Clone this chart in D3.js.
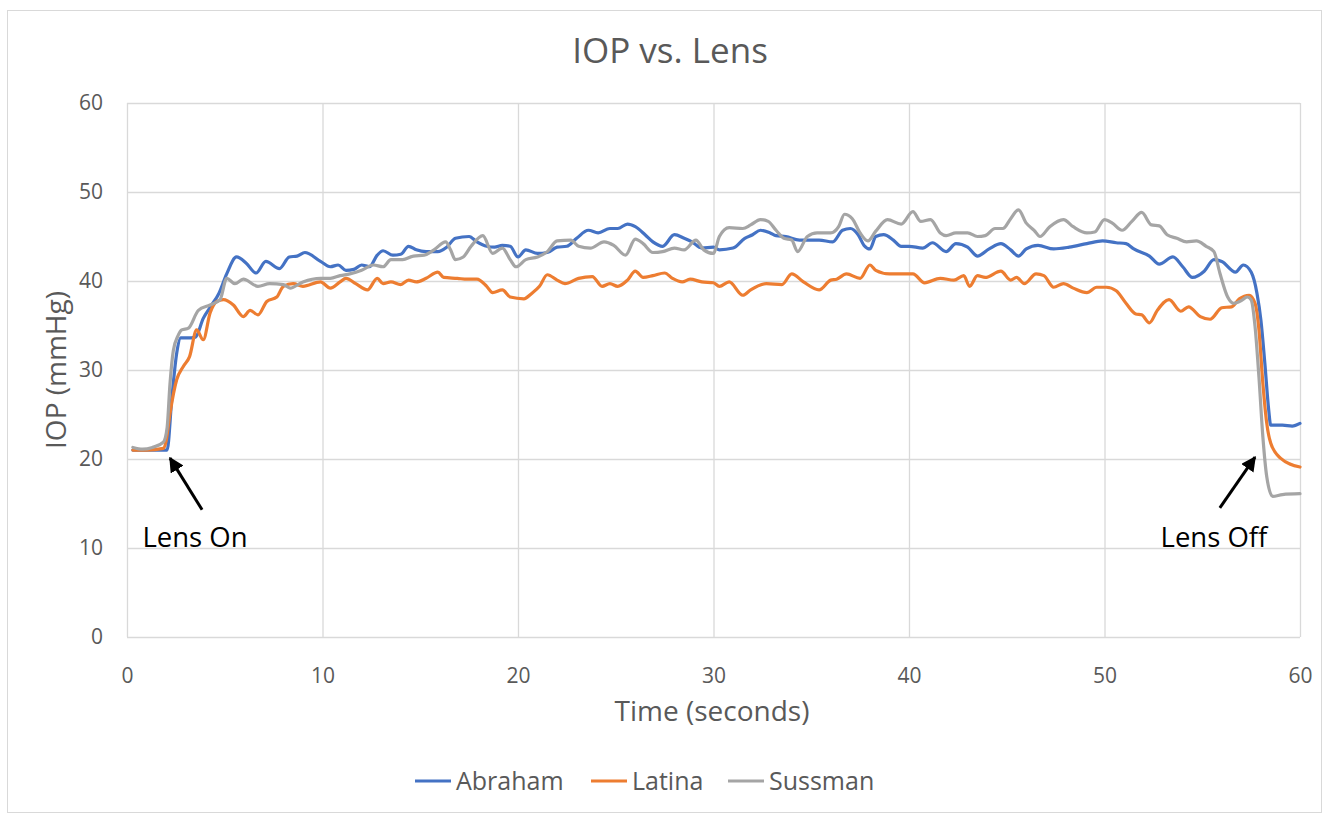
<!DOCTYPE html>
<html>
<head>
<meta charset="utf-8">
<script src="https://cdn.jsdelivr.net/npm/d3@7"></script>
<style>
  html, body { margin: 0; padding: 0; background: #fff; }
  svg { display: block; font-family: "Open Sans", "Noto Sans", sans-serif; }
</style>
</head>
<body>
<svg id="chart" width="1323" height="815"></svg>
<script>
// IOP vs. Lens — three subjects

const seriesNames = ['Abraham', 'Latina', 'Sussman'];
const seriesColors = ['#4472C4', '#ED7D31', '#A5A5A5'];

const xTicks = [0, 10, 20, 30, 40, 50, 60];
const yTicks = [0, 10, 20, 30, 40, 50, 60];

// [seconds, mmHg]
const abraham = [
  [0.3, 21.0], [1.0, 21.0], [1.8, 21.0], [2.05, 21.0], [2.3, 27.0], [2.55, 32.0], [2.75, 33.6],
  [3.1, 33.6], [3.5, 33.7], [3.9, 35.8], [4.3, 37.2], [4.7, 38.6], [5.1, 40.8], [5.6, 42.7],
  [6.1, 42.0], [6.6, 40.9], [7.1, 42.2], [7.8, 41.4], [8.3, 42.7], [8.7, 42.8], [9.1, 43.2],
  [9.9, 42.2], [10.4, 41.6], [10.8, 41.8], [11.2, 41.2], [11.6, 41.3], [12.0, 41.8], [12.4, 41.6],
  [12.8, 42.9], [13.1, 43.4], [13.6, 42.9], [14.0, 43.0], [14.4, 43.9], [14.8, 43.5], [15.3, 43.3],
  [15.9, 43.3], [16.35, 43.8], [16.8, 44.8], [17.5, 45.0], [17.9, 44.4], [18.4, 43.9], [18.8, 43.8],
  [19.2, 44.0], [19.6, 43.9], [20.0, 42.7], [20.4, 43.5], [21.0, 43.1], [21.5, 43.2], [22.0, 43.8],
  [22.5, 43.9], [23.0, 44.8], [23.6, 45.7], [24.1, 45.4], [24.7, 45.9], [25.1, 45.9], [25.6, 46.4],
  [26.0, 46.1], [26.5, 45.2], [26.9, 44.4], [27.4, 43.9], [28.0, 45.2], [28.5, 44.8], [28.9, 44.4],
  [29.4, 43.7], [30.0, 43.8], [30.3, 43.5], [31.0, 43.7], [31.6, 44.8], [32.0, 45.2], [32.4, 45.7],
  [32.9, 45.4], [33.2, 45.1], [33.7, 45.0], [34.4, 44.6], [35.4, 44.6], [36.1, 44.4], [36.6, 45.7],
  [37.0, 45.9], [37.4, 45.2], [37.7, 44.0], [38.0, 43.6], [38.3, 45.0], [38.7, 45.2], [39.2, 44.6],
  [39.6, 43.9], [40.0, 43.9], [40.7, 43.7], [41.2, 44.3], [41.9, 43.3], [42.4, 44.2], [43.0, 43.8],
  [43.5, 42.8], [44.1, 43.6], [44.7, 44.2], [45.2, 43.5], [45.6, 42.8], [46.0, 43.6], [46.6, 44.0],
  [47.4, 43.6], [48.2, 43.8], [49.1, 44.2], [49.9, 44.5], [50.6, 44.3], [51.1, 44.2], [51.5, 43.6],
  [52.3, 42.8], [52.8, 41.9], [53.5, 42.7], [54.0, 41.6], [54.5, 40.4], [55.1, 41.1], [55.6, 42.4],
  [56.0, 42.2], [56.7, 41.0], [57.1, 41.8], [57.5, 41.0], [57.8, 38.6], [58.0, 35.6], [58.2, 30.8],
  [58.4, 25.5], [58.5, 23.8], [59.1, 23.8], [59.6, 23.7], [60.0, 24.0]
];

const latina = [
  [0.3, 21.0], [1.0, 21.0], [1.86, 21.2], [2.0, 22.0], [2.2, 25.1], [2.54, 28.9], [2.88, 30.4],
  [3.2, 31.5], [3.56, 34.5], [3.9, 33.4], [4.25, 36.4], [4.6, 37.7], [4.93, 37.9], [5.44, 37.3],
  [5.95, 36.0], [6.3, 36.7], [6.7, 36.2], [7.15, 37.7], [7.66, 38.2], [8.0, 39.4], [8.5, 39.7],
  [9.0, 39.4], [9.9, 39.9], [10.4, 39.2], [10.9, 39.9], [11.2, 40.3], [11.7, 39.7], [12.3, 39.0],
  [12.8, 40.3], [13.1, 39.7], [13.5, 39.9], [14.0, 39.6], [14.4, 40.1], [14.8, 39.9], [15.3, 40.3],
  [15.9, 41.0], [16.2, 40.4], [16.9, 40.3], [17.4, 40.2], [17.9, 40.2], [18.4, 39.4], [18.7, 38.7],
  [19.2, 39.0], [19.6, 38.2], [20.3, 38.0], [20.7, 38.6], [21.1, 39.4], [21.5, 40.7], [22.0, 40.1],
  [22.4, 39.7], [23.1, 40.3], [23.8, 40.5], [24.3, 39.4], [24.7, 39.7], [25.1, 39.4], [25.6, 40.1],
  [26.0, 41.1], [26.4, 40.4], [26.9, 40.6], [27.5, 40.9], [27.9, 40.3], [28.4, 39.9], [28.8, 40.2],
  [29.4, 39.9], [30.0, 39.8], [30.3, 39.4], [30.8, 39.9], [31.5, 38.4], [31.9, 39.0], [32.7, 39.7],
  [33.5, 39.6], [34.0, 40.8], [34.6, 39.9], [35.4, 39.0], [36.0, 40.1], [36.3, 40.2], [36.8, 40.8],
  [37.5, 40.3], [38.0, 41.8], [38.3, 41.2], [39.0, 40.8], [39.6, 40.8], [40.2, 40.8], [40.8, 39.8],
  [41.6, 40.3], [42.3, 40.1], [42.8, 40.6], [43.1, 39.4], [43.5, 40.6], [43.9, 40.4], [44.7, 41.1],
  [45.2, 40.1], [45.5, 40.4], [45.9, 39.7], [46.5, 40.8], [46.9, 40.6], [47.4, 39.3], [47.9, 39.7],
  [48.4, 39.2], [49.1, 38.7], [49.6, 39.3], [50.1, 39.3], [50.6, 38.9], [51.1, 37.5], [51.6, 36.3],
  [51.9, 36.2], [52.3, 35.3], [52.7, 36.7], [53.3, 37.9], [53.9, 36.6], [54.3, 37.1], [54.9, 36.0],
  [55.4, 35.7], [56.0, 37.0], [56.5, 37.1], [56.9, 38.0], [57.4, 38.4], [57.7, 37.5], [57.9, 34.5],
  [58.1, 28.5], [58.3, 24.0], [58.5, 21.8], [59.0, 20.1], [60.0, 19.1]
];

const sussman = [
  [0.3, 21.3], [0.8, 21.1], [1.3, 21.3], [1.86, 21.9], [2.05, 23.5], [2.2, 28.5], [2.37, 32.2],
  [2.6, 33.8], [2.8, 34.5], [3.14, 34.7], [3.65, 36.7], [4.25, 37.3], [4.76, 37.9], [5.1, 40.3],
  [5.52, 39.7], [5.95, 40.2], [6.7, 39.4], [7.3, 39.7], [8.0, 39.6], [8.34, 39.2], [9.0, 39.9],
  [9.9, 40.3], [10.4, 40.3], [10.9, 40.6], [11.4, 40.8], [12.0, 41.2], [12.6, 41.8], [13.1, 41.6],
  [13.5, 42.4], [14.1, 42.4], [14.65, 42.8], [15.2, 42.9], [15.7, 43.5], [16.3, 44.4], [16.55, 43.5],
  [16.8, 42.4], [17.2, 42.7], [17.6, 43.9], [18.2, 45.1], [18.7, 43.1], [19.2, 43.7], [19.6, 42.4],
  [19.9, 41.6], [20.4, 42.4], [21.0, 42.7], [21.5, 43.3], [22.0, 44.5], [22.7, 44.6], [23.1, 43.9],
  [23.7, 43.7], [24.4, 44.4], [24.9, 44.0], [25.5, 42.9], [26.0, 44.7], [26.4, 44.2], [26.9, 43.2],
  [27.4, 43.3], [28.0, 43.7], [28.5, 43.5], [29.1, 44.6], [29.5, 43.5], [30.0, 43.1], [30.3, 45.0],
  [30.8, 46.0], [31.5, 45.9], [31.9, 46.3], [32.4, 46.9], [32.8, 46.7], [33.2, 45.7], [33.6, 44.8],
  [34.0, 44.6], [34.3, 43.3], [34.8, 45.0], [35.3, 45.4], [36.0, 45.4], [36.4, 46.1], [36.7, 47.5],
  [37.1, 47.0], [37.5, 45.4], [37.9, 44.5], [38.3, 45.6], [38.9, 46.9], [39.6, 46.4], [40.2, 47.8],
  [40.6, 46.7], [41.1, 46.9], [41.6, 45.4], [41.9, 45.1], [42.4, 45.4], [43.0, 45.4], [43.5, 45.0],
  [43.9, 45.1], [44.4, 45.9], [44.8, 45.9], [45.2, 47.0], [45.6, 48.0], [46.0, 46.5], [46.4, 45.7],
  [46.7, 45.0], [47.2, 46.1], [47.9, 46.9], [48.4, 46.1], [49.1, 45.4], [49.5, 45.5], [50.0, 46.9],
  [50.4, 46.5], [50.9, 45.7], [51.4, 46.7], [51.9, 47.7], [52.4, 46.3], [52.8, 46.2], [53.2, 45.2],
  [53.7, 44.8], [54.2, 44.4], [54.7, 44.5], [55.2, 43.9], [55.6, 43.3], [55.9, 40.9], [56.3, 38.2],
  [56.6, 37.5], [57.0, 37.8], [57.3, 38.2], [57.5, 37.9], [57.7, 34.9], [57.9, 29.2], [58.1, 22.5],
  [58.3, 18.0], [58.6, 15.8], [59.1, 16.0], [60.0, 16.1]
];

const seriesData = [abraham, latina, sussman];

// annotation anchors: [tipT, tipV, tailT, tailV, labelT, labelV]
const annotationLabels = ['Lens On', 'Lens Off'];
const annotationAnchors = [
  [2.2, 20.1, 3.84, 14.3, 3.48, 10.1],
  [57.7, 20.2, 55.9, 14.5, 55.6, 10.1]
];

// ─── Layout ──────────────────────────────────────────────────────────────────

const svg = d3.select('#chart');
const plot = { left: 127, right: 1300, top: 103, bottom: 637 };
const textColor = '#595959';
const gridColor = '#d9d9d9';

const x = d3.scaleLinear().domain([0, 60]).range([plot.left, plot.right]);
const y = d3.scaleLinear().domain([0, 60]).range([plot.bottom, plot.top]);

// chart border
svg.append('rect')
  .attr('x', 7.5).attr('y', 10.5)
  .attr('width', 1314).attr('height', 802)
  .attr('fill', 'none')
  .attr('stroke', gridColor)
  .attr('stroke-width', 1);

// title
svg.append('text')
  .attr('x', 670).attr('y', 63)
  .attr('text-anchor', 'middle')
  .attr('font-size', 35)
  .attr('fill', textColor)
  .text('IOP vs. Lens');

// ─── Grid + axes ─────────────────────────────────────────────────────────────

const yAxis = svg.append('g')
  .attr('transform', `translate(${plot.left},0)`)
  .call(d3.axisLeft(y).tickValues(yTicks).tickSize(-(plot.right - plot.left)).tickPadding(24));

const xAxis = svg.append('g')
  .attr('transform', `translate(0,${plot.bottom})`)
  .call(d3.axisBottom(x).tickValues(xTicks).tickSize(-(plot.bottom - plot.top)).tickPadding(31));

[xAxis, yAxis].forEach(g => {
  g.select('.domain').remove();
  g.selectAll('.tick line').attr('stroke', gridColor).attr('stroke-width', 1.3);
  g.selectAll('.tick text')
    .attr('fill', textColor)
    .attr('font-size', 21)
    .attr('font-family', '"Open Sans", sans-serif');
});

// axis titles
svg.append('text')
  .attr('x', 712).attr('y', 721)
  .attr('text-anchor', 'middle')
  .attr('font-size', 28)
  .attr('fill', textColor)
  .text('Time (seconds)');

svg.append('text')
  .attr('transform', `translate(66,${(plot.top + plot.bottom) / 2}) rotate(-90)`)
  .attr('text-anchor', 'middle')
  .attr('font-size', 28)
  .attr('fill', textColor)
  .text('IOP (mmHg)');

// ─── Lines ───────────────────────────────────────────────────────────────────

const line = d3.line()
  .x(d => x(d[0]))
  .y(d => y(d[1]))
  .curve(d3.curveMonotoneX);

svg.append('g').selectAll('path')
  .data(seriesData)
  .join('path')
  .attr('d', line)
  .attr('fill', 'none')
  .attr('stroke', (d, i) => seriesColors[i])
  .attr('stroke-width', 3.2)
  .attr('stroke-linejoin', 'round')
  .attr('stroke-linecap', 'round');

// ─── Annotations ─────────────────────────────────────────────────────────────

svg.append('defs').append('marker')
  .attr('id', 'arrowhead')
  .attr('viewBox', '0 -5 10 10')
  .attr('refX', 9)
  .attr('refY', 0)
  .attr('markerWidth', 5)
  .attr('markerHeight', 5)
  .attr('markerUnits', 'strokeWidth')
  .attr('orient', 'auto')
  .append('path')
  .attr('d', 'M0,-5L10,0L0,5Z')
  .attr('fill', '#000');

const ann = svg.append('g').selectAll('g')
  .data(annotationAnchors)
  .join('g');

ann.append('line')
  .attr('x1', d => x(d[2])).attr('y1', d => y(d[3]))
  .attr('x2', d => x(d[0])).attr('y2', d => y(d[1]))
  .attr('stroke', '#000')
  .attr('stroke-width', 3)
  .attr('marker-end', 'url(#arrowhead)');

ann.append('text')
  .attr('x', d => x(d[4])).attr('y', d => y(d[5]))
  .attr('text-anchor', 'middle')
  .attr('font-size', 27.5)
  .attr('fill', '#000')
  .text((d, i) => annotationLabels[i]);

// ─── Legend ──────────────────────────────────────────────────────────────────

const legendX = [415, 591, 728];
const legend = svg.append('g').selectAll('g')
  .data(seriesNames)
  .join('g')
  .attr('transform', (d, i) => `translate(${legendX[i]},781)`);

legend.append('line')
  .attr('x1', 0).attr('x2', 36)
  .attr('stroke', (d, i) => seriesColors[i])
  .attr('stroke-width', 3);

legend.append('text')
  .attr('x', 41).attr('y', 9)
  .attr('font-size', 25)
  .attr('fill', textColor)
  .text(d => d);
</script>
</body>
</html>
